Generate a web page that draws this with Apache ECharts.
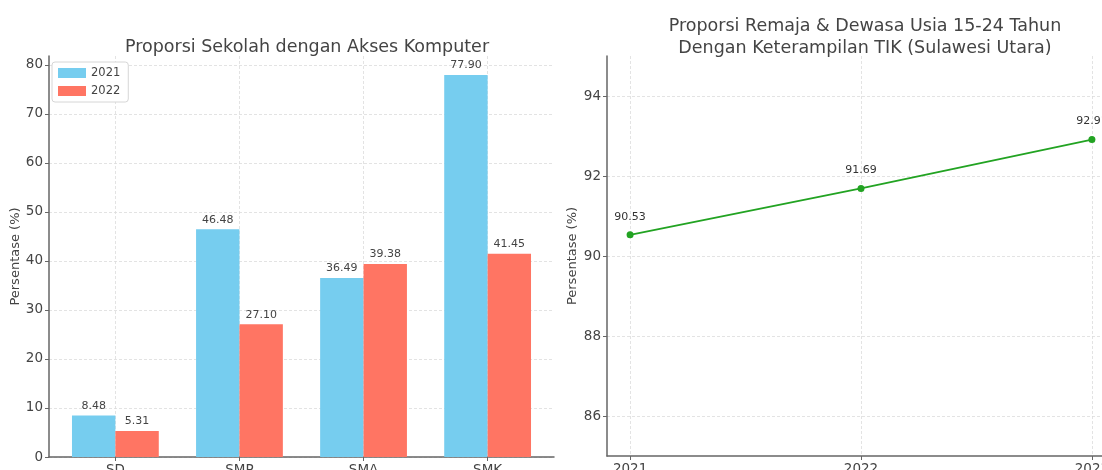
<!DOCTYPE html>
<html>
<head>
<meta charset="utf-8">
<script src="https://cdn.jsdelivr.net/npm/echarts@6/dist/echarts.min.js"></script>
<style>
  html, body { margin: 0; padding: 0; background: #fff; }
  #chart { width: 1102px; height: 470px; }
</style>
</head>
<body>
<div id="chart"></div>
<script>
// School computer access by level
const levels = ['SD', 'SMP', 'SMA', 'SMK'];
const access2021 = [8.48, 46.48, 36.49, 77.90];
const access2022 = [5.31, 27.10, 39.38, 41.45];
const accessTicks = [0, 10, 20, 30, 40, 50, 60, 70, 80];

// Youth & adults aged 15-24 with ICT skills (North Sulawesi)
const years = ['2021', '2022', '2023'];
const ictSkills = [90.53, 91.69, 92.91];
const ictTicks = [86, 88, 90, 92, 94];

const FONT = 'DejaVu Sans';
const TEXT = '#444';
const SPINE = '#666';
const GRID = '#dcdcdc';

const levelIdx = levels.map((_, i) => i);
const yearIdx = years.map((_, i) => i);

function valueAxisBase(ticks, fmt) {
  return {
    axisLine: { show: true, onZero: false, lineStyle: { color: SPINE, width: 1.5 } },
    axisTick: { show: true, length: 4, customValues: ticks, lineStyle: { color: SPINE } },
    axisLabel: { customValues: ticks, color: TEXT, fontFamily: FONT, fontSize: 13.5, margin: 6, formatter: fmt },
    splitLine: { show: true, lineStyle: { color: GRID, type: [3, 2], width: 0.8 } }
  };
}

const chart = echarts.init(document.getElementById('chart'), null, { renderer: 'canvas' });

chart.setOption({
  animation: false,
  backgroundColor: '#fff',
  textStyle: { fontFamily: FONT },
  title: [
    {
      text: 'Proporsi Sekolah dengan Akses Komputer',
      left: 302, top: 33, textAlign: 'center',
      textStyle: { fontFamily: FONT, fontSize: 17.5, fontWeight: 'normal', color: TEXT }
    },
    {
      text: 'Proporsi Remaja & Dewasa Usia 15-24 Tahun\nDengan Keterampilan TIK (Sulawesi Utara)',
      left: 860, top: 10, textAlign: 'center',
      textStyle: { fontFamily: FONT, fontSize: 17.5, fontWeight: 'normal', color: TEXT, lineHeight: 22 }
    }
  ],
  legend: {
    data: ['2021', '2022'],
    left: 52, top: 62, orient: 'vertical',
    itemWidth: 28, itemHeight: 10, itemGap: 6,
    icon: 'rect',
    padding: [5, 8, 5, 6],
    backgroundColor: '#fff',
    borderColor: '#d6d6d6', borderWidth: 1, borderRadius: 3,
    textStyle: { fontFamily: FONT, fontSize: 11.5, color: TEXT }
  },
  grid: [
    { left: 49, top: 56, width: 505, height: 401, outerBoundsMode: 'none' },
    { left: 607, top: 56, width: 508, height: 400, outerBoundsMode: 'none' }
  ],
  xAxis: [
    Object.assign(valueAxisBase(levelIdx, v => levels[v] ?? ''), {
      gridIndex: 0, type: 'value', min: -0.535, max: 3.535
    }),
    Object.assign(valueAxisBase(yearIdx, v => years[v] ?? ''), {
      gridIndex: 1, type: 'value', min: -0.1, max: 2.1
    })
  ],
  yAxis: [
    Object.assign(valueAxisBase(accessTicks), {
      gridIndex: 0, type: 'value', min: 0, max: 81.8,
      name: 'Persentase (%)', nameLocation: 'middle', nameGap: 26, nameRotate: 90,
      nameTextStyle: { fontFamily: FONT, fontSize: 13, color: TEXT }
    }),
    Object.assign(valueAxisBase(ictTicks), {
      gridIndex: 1, type: 'value', min: 85, max: 95,
      name: 'Persentase (%)', nameLocation: 'middle', nameGap: 28, nameRotate: 90,
      nameTextStyle: { fontFamily: FONT, fontSize: 13, color: TEXT }
    })
  ],
  series: [
    {
      name: '2021', type: 'bar', xAxisIndex: 0, yAxisIndex: 0,
      barWidth: 43.4, barGap: '0%',
      itemStyle: { color: '#76CDEF' },
      label: {
        show: true, position: 'top', distance: 4,
        fontFamily: FONT, fontSize: 11, color: TEXT,
        formatter: p => p.value[1].toFixed(2)
      },
      data: access2021.map((v, i) => [i, v])
    },
    {
      name: '2022', type: 'bar', xAxisIndex: 0, yAxisIndex: 0,
      barWidth: 43.4, barGap: '0%',
      itemStyle: { color: '#FF7563' },
      label: {
        show: true, position: 'top', distance: 4,
        fontFamily: FONT, fontSize: 11, color: TEXT,
        formatter: p => p.value[1].toFixed(2)
      },
      data: access2022.map((v, i) => [i, v])
    },
    {
      name: 'TIK', type: 'line', xAxisIndex: 1, yAxisIndex: 1,
      symbol: 'circle', symbolSize: 7,
      lineStyle: { color: '#22A322', width: 1.8 },
      itemStyle: { color: '#22A322' },
      label: {
        show: true, position: 'top', distance: 9,
        fontFamily: FONT, fontSize: 11, color: '#333',
        formatter: p => p.value[1].toFixed(2)
      },
      data: ictSkills.map((v, i) => [i, v])
    }
  ]
});
</script>
</body>
</html>
